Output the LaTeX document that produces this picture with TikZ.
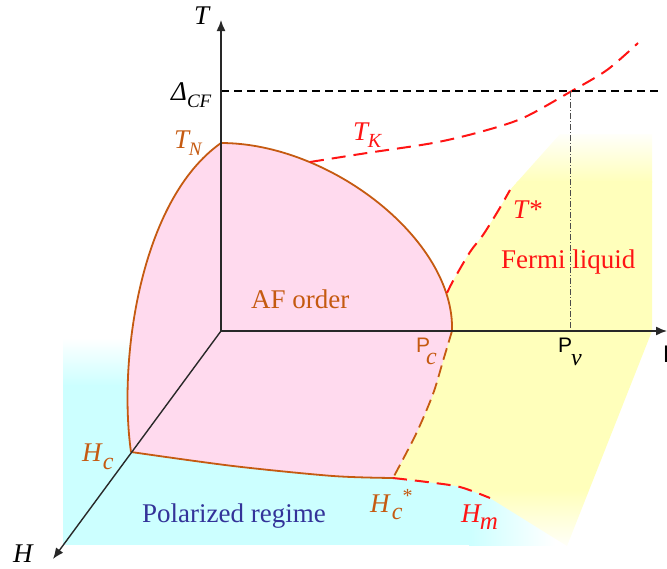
\documentclass[tikz,border=0pt]{standalone}
\usepackage{fontspec}
\setmainfont{Liberation Serif}
\newfontfamily\arialf{Liberation Sans}
\usetikzlibrary{arrows.meta}
\definecolor{orangec}{RGB}{197,90,17}
\definecolor{redc}{RGB}{255,20,20}
\definecolor{bluec}{RGB}{51,51,153}
\definecolor{pinkc}{RGB}{255,218,238}
\definecolor{yellowc}{RGB}{255,255,187}
\definecolor{cyanc}{RGB}{204,255,255}
\definecolor{axisc}{RGB}{40,40,40}
\newcommand{\subsz}[1]{\fontsize{#1}{#1}\selectfont}
\begin{document}
\begin{tikzpicture}[x=1pt,y=-1pt,
  lbl/.style={font=\fontsize{27}{30}\selectfont, inner sep=0pt, anchor=base west},
  axisline/.style={draw=axisc, line width=1.4pt, -{Latex[length=11pt,width=9pt]}},
  cfdash/.style={draw=black, line width=2.4pt, dash pattern=on 8pt off 5pt},
  ddot/.style={draw=black!70, line width=0.7pt, dash pattern=on 6pt off 2pt on 1pt off 2pt},
  orangeline/.style={draw=orangec, line width=1.8pt},
  orangedash/.style={draw=orangec, line width=1.8pt, dash pattern=on 12pt off 6pt},
  reddash/.style={draw=redc, line width=2pt, dash pattern=on 14pt off 8pt}
]
\useasboundingbox (0,0) rectangle (667,568);
% key points
\coordinate (O) at (221,331);
\coordinate (Ttip) at (221,20);
\coordinate (Ptip) at (667,331);
\coordinate (Htip) at (53,559);
\coordinate (TN) at (221,143);
\coordinate (Pc) at (452,331);
\coordinate (Hc) at (131,452);
\coordinate (Hcs) at (393,478);
\coordinate (Hm) at (490,498);
\coordinate (DL) at (221,91);
\coordinate (DR) at (658,91);
\coordinate (X) at (570,91);
\coordinate (Pv) at (570,331);

% cyan polarized region
\begin{scope}
  \clip (63,338) rectangle (570,545);
  \shade[top color=white, bottom color=cyanc] (63,338) rectangle (470,386);
  \fill[cyanc] (63,385) rectangle (470,545);
  \shade[left color=cyanc, right color=white] (469,385) rectangle (555,545);
\end{scope}

% yellow Fermi-liquid region
\begin{scope}
  \clip plot[smooth] coordinates {(447,293) (453,281) (470,252) (483,235) (498,211) (510,190)}
    -- (560,134) -- (652,134) -- (652,331) -- (567,546) -- (Hm)
    -- plot[smooth] coordinates {(490,498) (460,487) (427,482) (393,478)}
    -- plot[smooth] coordinates {(393,478) (416,434) (433,394) (443,361) (452,331)}
    -- cycle;
  \shade[top color=white, bottom color=yellowc] (380,130) rectangle (660,182);
  \fill[yellowc] (380,181) rectangle (660,491);
  \shade[top color=yellowc, bottom color=white] (380,490) rectangle (660,552);
\end{scope}

% pink AF region
\fill[pinkc] (Hc) .. controls (118,360) and (140,200) .. (TN)
  .. controls (330,143) and (455,240) .. (Pc)
  -- plot[smooth] coordinates {(452,331) (443,361) (433,394) (416,434) (393,478)}
  -- plot[smooth] coordinates {(393,478) (333,476) (233,466) (131,452)}
  -- cycle;

% boundaries
\draw[orangeline] (Hc) .. controls (118,360) and (140,200) .. (TN)
  .. controls (330,143) and (455,240) .. (Pc);
\draw[orangeline] plot[smooth] coordinates {(393,478) (333,476) (233,466) (131,452)};
\draw[orangedash] plot[smooth] coordinates {(452,331) (443,361) (433,394) (416,434) (393,478)};
\draw[reddash] plot[smooth] coordinates {(393,478) (427,482) (460,487) (490,498)};
\draw[reddash] plot[smooth] coordinates {(310,162) (367,153) (433,143) (480,132) (523,118) (570,92) (607,70) (638,43)};
\draw[reddash] plot[smooth] coordinates {(447,293) (453,281) (470,252) (483,235) (498,211) (510,190)};

% Delta_CF line and P_v marker
\draw[cfdash] (DL) -- (DR);
\draw[ddot] (X) -- (Pv);

% axes
\draw[axisline] (O) -- (Ttip);
\draw[axisline] (O) -- (Ptip);
\draw[axisline] (O) -- (Htip);

% labels
\node[lbl] (Tlab) at (194,24) {\textit{T}};
\node[lbl] (Dlab) at (171,100) {\textit{Δ}\raisebox{-7pt}{\subsz{19}\textit{CF}}};
\node[lbl, text=orangec] (TNlab) at (174,148) {\textit{T}\kern-2pt\raisebox{-7pt}{\subsz{19}\textit{N}}};
\node[lbl, text=redc] (TKlab) at (353,140) {\textit{T}\kern-2pt\raisebox{-7pt}{\subsz{20}\textit{K}}};
\node[lbl, text=redc] (Tslab) at (513,218) {\textit{T*}};
\node[lbl, text=redc] (FLlab) at (501,268) {Fermi liquid};
\node[lbl, text=orangec] (AFlab) at (251,308) {AF order};
\node[lbl, text=bluec] (PRlab) at (142,522) {Polarized regime};
\node[lbl, text=orangec] (Pclab) at (416,352) {{\arialf\subsz{21}P}\kern-4pt\raisebox{-12pt}{\subsz{24}\textit{c}}};
\node[lbl] (Pvlab) at (558,352) {{\arialf\subsz{21}P}\kern-1pt\raisebox{-13pt}{\subsz{24}\textit{v}}};
\node[lbl] (Plab) at (663,362) {{\arialf\subsz{24}P}};
\node[lbl, text=orangec] (Hclab) at (82,461) {\textit{H}\raisebox{-8pt}{\subsz{24}\textit{c}}};
\node[lbl] (Hlab) at (13,562) {\textit{H}};
\node[lbl, text=orangec] (Hcslab) at (370,512) {\textit{H}\kern1pt\raisebox{-7pt}{\subsz{24}\textit{c}}\raisebox{9.5pt}{\subsz{20}*}};
\node[lbl, text=redc] (Hmlab) at (461,522) {\textit{H}\kern-2pt\raisebox{-7pt}{\subsz{25}\textit{m}}};
\end{tikzpicture}
\end{document}
